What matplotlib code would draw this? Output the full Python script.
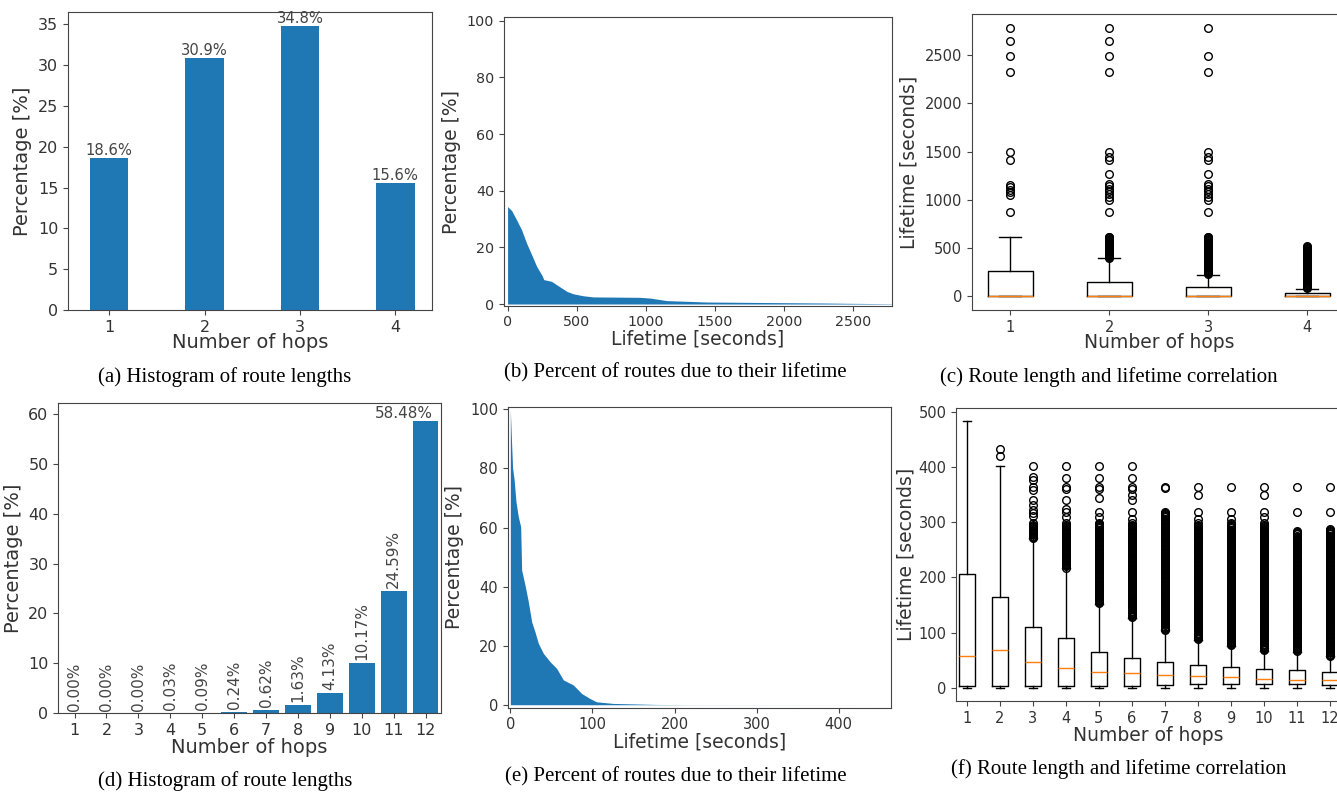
import numpy as np
import matplotlib.pyplot as plt

plt.rcParams['font.family'] = 'DejaVu Sans'
plt.rcParams['axes.edgecolor'] = '#444444'
plt.rcParams['xtick.color'] = '#444444'
plt.rcParams['ytick.color'] = '#444444'
plt.rcParams['xtick.labelcolor'] = '#333333'
plt.rcParams['ytick.labelcolor'] = '#333333'
plt.rcParams['axes.labelcolor'] = '#333333'

# (a) histogram of route lengths
hops_a = [1, 2, 3, 4]
pct_a = [18.6, 30.9, 34.8, 15.6]

# (d) histogram of route lengths
hops_d = list(range(1, 13))
pct_d = [0.00, 0.00, 0.00, 0.03, 0.09, 0.24, 0.62, 1.63, 4.13, 10.17, 24.59, 58.48]

# (b) percent of routes still alive vs lifetime
life_b = [0, 29, 65, 101, 137, 174, 210, 250, 262, 318, 355, 427, 475, 548, 620,
          958, 1030, 1150, 1440, 1922, 2284, 2453, 2742, 2780]
pct_b = [34.4, 33.0, 29.7, 26.2, 21.5, 17.4, 13.3, 10.0, 8.6, 8.0, 6.8, 4.5, 3.6, 2.9, 2.5,
         2.35, 2.1, 1.2, 0.7, 0.5, 0.35, 0.25, 0.12, 0.1]

# (e) percent of routes still alive vs lifetime
life_e = [0, 1.6, 2.8, 4.5, 6.9, 9.7, 12.6, 13.8, 17.9, 21.9, 26, 30, 34.1, 40.2,
          48.3, 56.4, 64.6, 76.7, 86.9, 97, 105, 125, 178, 219, 480]
pct_e = [100, 88, 80, 76.6, 68.7, 63.7, 60.3, 45.6, 40.5, 34.9, 28.1, 24.7, 20.8, 17.4,
         14.6, 12.3, 8.4, 6.7, 3.8, 2.1, 1.0, 0.45, 0.1, 0.03, 0.0]

# (c) box stats per hop count
hops_c = [1, 2, 3, 4]
q1_c = [0, 0, 0, 0]
med_c = [0, 0, 0, 0]
q3_c = [263, 152, 93, 31]
lo_c = [0, 0, 0, 0]
hi_c = [619, 394, 218, 80]
out_c = [[878, 1050, 1080, 1100, 1130, 1155, 1411, 1500, 2330, 2497, 2645, 2787],
         [875, 1000, 1030, 1060, 1090, 1110, 1140, 1160, 1265, 1410, 1450, 1500, 2330, 2497, 2645, 2787],
         [875, 1000, 1030, 1060, 1090, 1110, 1140, 1160, 1265, 1410, 1450, 1500, 2330, 2497, 2787],
         []]
# ranges where outliers are packed solid (lifetimes in whole seconds)
dense_c = [None, (400, 625), (230, 625), (85, 535)]

# (f) box stats per hop count
hops_f = list(range(1, 13))
q1_f = [3, 3, 3, 3, 3, 3, 5, 6, 7, 7, 7, 5.5]
med_f = [57.5, 69, 46, 36, 28, 26, 23, 22, 20, 16, 14, 14]
q3_f = [207, 164, 110, 91, 65, 54.5, 46, 40.5, 37, 33, 31.5, 28]
lo_f = [0] * 12
hi_f = [484, 403, 271, 217, 152, 127, 104, 87, 76, 67, 65, 57]
out_f = [[], [420, 433], [311, 317, 323, 332, 341, 359, 365, 377, 383, 403],
         [310, 318, 325, 340, 360, 365, 380, 403], [310, 318, 345, 360, 365, 380, 403],
         [307, 318, 340, 350, 360, 365, 380, 403], [362, 365], [307, 318, 350, 365],
         [307, 318, 365], [310, 318, 350, 365], [318, 365], [318, 365]]
dense_f = [None, None, (272, 300), (218, 300), (153, 300), (128, 300), (105, 320),
           (88, 300), (77, 300), (68, 300), (66, 285), (58, 290)]

W, H = 1337, 794
fig = plt.figure(figsize=(W / 100, H / 100), dpi=100)


def px_axes(left, top, right, bottom):
    return fig.add_axes([left / W, 1 - bottom / H, (right - left) / W, (bottom - top) / H])


def make_stats(q1, med, q3, lo, hi, outs, dense, step):
    stats = []
    for i in range(len(q1)):
        fl = list(outs[i])
        if dense[i] is not None:
            fl += list(np.arange(dense[i][0], dense[i][1], step))
        stats.append(dict(q1=q1[i], med=med[i], q3=q3[i], whislo=lo[i], whishi=hi[i], fliers=fl))
    return stats


flier_style = dict(marker='o', markerfacecolor='none', markeredgecolor='black',
                   markersize=5.5, markeredgewidth=1)

# ---- (a)
ax = px_axes(68, 11.7, 431.7, 310)
bars = ax.bar(hops_a, pct_a, width=0.4, color='#1f77b4')
ax.bar_label(bars, labels=[f'{v}%' for v in pct_a], fontsize=10.6, color='#444444')
ax.set_xlim(0.57, 4.38)
ax.set_ylim(0, 36.55)
ax.set_xticks(hops_a)
ax.tick_params(labelsize=11.5)
ax.set_xlabel('Number of hops', fontsize=14, labelpad=-1)
ax.set_ylabel('Percentage [%]', fontsize=14)

# ---- (b)
ax = px_axes(504, 17.3, 892, 305.7)
ax.fill_between(life_b, pct_b, color='#1f77b4', lw=0)
ax.set_xlim(-26, 2781)
ax.set_ylim(-0.6, 101.2)
ax.tick_params(labelsize=10.3)
ax.set_xlabel('Lifetime [seconds]', fontsize=13.5, labelpad=0)
ax.set_ylabel('Percentage [%]', fontsize=13.5)

# ---- (c)
ax = px_axes(971.7, 14, 1345.9, 310)
ax.bxp(make_stats(q1_c, med_c, q3_c, lo_c, hi_c, out_c, dense_c, 10),
       positions=hops_c, widths=0.45, flierprops=flier_style,
       medianprops=dict(color='#ff7f0e'))
ax.set_xlim(0.61, 4.39)
ax.set_ylim(-142, 2928)
ax.set_xticks(hops_c, [str(h) for h in hops_c])
ax.tick_params(labelsize=10.5)
ax.set_xlabel('Number of hops', fontsize=13.5, labelpad=-1)
ax.set_ylabel('Lifetime [seconds]', fontsize=13.5)

# ---- (d)
ax = px_axes(58.3, 403.3, 441, 713.3)
ax.bar(hops_d, pct_d, width=0.8, color='#1f77b4')
for h, v in zip(hops_d, pct_d):
    if h == hops_d[-1]:
        ax.annotate(f'{v:.2f}%', (h, v), xytext=(-16, 0), textcoords='offset points',
                    ha='center', va='bottom', fontsize=11, color='#444444')
    else:
        ax.annotate(f'{v:.2f}%', (h, v), xytext=(0, 2), textcoords='offset points',
                    ha='center', va='bottom', rotation=90, fontsize=11, color='#444444')
ax.set_xlim(0.49, 12.48)
ax.set_ylim(0, 62.1)
ax.set_xticks(hops_d)
ax.tick_params(labelsize=11.5)
ax.set_xlabel('Number of hops', fontsize=14, labelpad=0)
ax.set_ylabel('Percentage [%]', fontsize=14)

# ---- (e)
ax = px_axes(507.7, 406.7, 891.3, 707.7)
ax.fill_between(life_e, pct_e, color='#1f77b4', lw=0)
ax.set_xlim(-3.2, 464)
ax.set_ylim(-1.0, 100.9)
ax.tick_params(labelsize=10.5)
ax.set_xlabel('Lifetime [seconds]', fontsize=13.5, labelpad=0)
ax.set_ylabel('Percentage [%]', fontsize=13.5)

# ---- (f)
ax = px_axes(956.3, 408.3, 1340.4, 701)
ax.bxp(make_stats(q1_f, med_f, q3_f, lo_f, hi_f, out_f, dense_f, 2),
       positions=hops_f, widths=0.5, flierprops=flier_style,
       medianprops=dict(color='#ff7f0e'))
ax.set_xlim(0.68, 12.32)
ax.set_ylim(-24.2, 507)
ax.set_xticks(hops_f, [str(h) for h in hops_f])
ax.tick_params(labelsize=10.5)
ax.set_xlabel('Number of hops', fontsize=13.5, labelpad=0)
ax.set_ylabel('Lifetime [seconds]', fontsize=13.5, labelpad=2)

# captions
captions = [('(a) Histogram of route lengths', 225, 377),
            ('(b) Percent of routes due to their lifetime', 675, 373),
            ('(c) Route length and lifetime correlation', 1109, 377),
            ('(d) Histogram of route lengths', 225, 781),
            ('(e) Percent of routes due to their lifetime', 676, 777),
            ('(f) Route length and lifetime correlation', 1119, 769)]
for txt, x, y in captions:
    fig.text(x / W, 1 - y / H, txt, ha='center', va='center',
             fontsize=15, family='Liberation Serif', color='black')

fig.savefig('out.png', dpi=100)
